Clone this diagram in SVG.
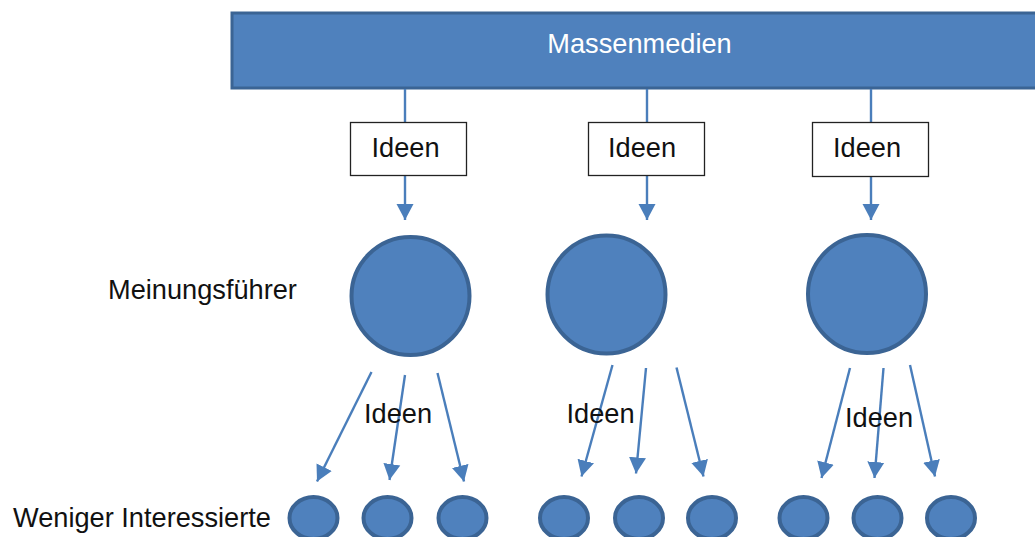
<svg xmlns="http://www.w3.org/2000/svg" width="1035" height="537" viewBox="0 0 1035 537">
<style>
.blue{fill:#4f81bd;stroke:#3b6494;stroke-width:4}
.box{fill:#fff;stroke:#222;stroke-width:1.3}
.t{font-family:"Liberation Sans",Arial,sans-serif;font-size:27.2px;fill:#111}
.conn line{stroke:#4a7ebb;stroke-width:2.4}
</style>
<defs>
<marker id="ah" markerUnits="userSpaceOnUse" markerWidth="18" markerHeight="18" viewBox="0 0 18 18" refX="16" refY="9" orient="auto">
<path d="M0,0.5 L16,9 L0,17.5 Z" fill="#4a7ebb"/>
</marker>
</defs>
<rect width="1035" height="537" fill="#fff"/>
<g id="massenmedien">
<rect x="232" y="13" width="820" height="75" class="blue" style="stroke-width:3"/>
<text x="639.5" y="53" text-anchor="middle" class="t" style="fill:#fff">Massenmedien</text>
</g>
<g class="conn" id="connectors">
<line x1="405" y1="89" x2="405" y2="122"/>
<line x1="647" y1="89" x2="647" y2="122"/>
<line x1="871" y1="89" x2="871" y2="122"/>
<line x1="405" y1="176" x2="405" y2="220" marker-end="url(#ah)"/>
<line x1="647" y1="176" x2="647" y2="220" marker-end="url(#ah)"/>
<line x1="871" y1="176" x2="871" y2="220" marker-end="url(#ah)"/>
<line x1="371.5" y1="372" x2="317" y2="481.5" marker-end="url(#ah)"/>
<line x1="405" y1="375" x2="389.5" y2="480" marker-end="url(#ah)"/>
<line x1="437.5" y1="373" x2="464" y2="481.5" marker-end="url(#ah)"/>
<line x1="612.5" y1="365" x2="581.5" y2="476.5" marker-end="url(#ah)"/>
<line x1="646" y1="368" x2="636" y2="473.5" marker-end="url(#ah)"/>
<line x1="676.5" y1="367.5" x2="703.5" y2="476.5" marker-end="url(#ah)"/>
<line x1="850" y1="368" x2="821.5" y2="478" marker-end="url(#ah)"/>
<line x1="883.5" y1="368" x2="874.5" y2="478" marker-end="url(#ah)"/>
<line x1="910" y1="365" x2="935" y2="476.5" marker-end="url(#ah)"/>
</g>
<g id="box1"><rect x="350.5" y="122.5" width="116" height="53" class="box"/><text x="371.5" y="156.5" class="t">Ideen</text></g>
<g id="box2"><rect x="588.5" y="122.5" width="116" height="53" class="box"/><text x="608" y="156.5" class="t">Ideen</text></g>
<g id="box3"><rect x="812.5" y="122.5" width="116" height="54" class="box"/><text x="833" y="157" class="t">Ideen</text></g>
<g id="label-meinungsfuehrer"><text x="108" y="299" class="t">Meinungsführer</text></g>
<g id="leader1"><circle cx="410.5" cy="296" r="59" class="blue"/></g>
<g id="leader2"><circle cx="606.5" cy="294.5" r="59" class="blue"/></g>
<g id="leader3"><circle cx="867" cy="294" r="59" class="blue"/></g>
<g id="label-ideen1"><text x="364" y="422.5" class="t">Ideen</text></g>
<g id="label-ideen2"><text x="566.5" y="423" class="t">Ideen</text></g>
<g id="label-ideen3"><text x="845" y="426.5" class="t">Ideen</text></g>
<g id="label-weniger"><text x="13" y="527" class="t">Weniger Interessierte</text></g>
<g id="followers">
<ellipse id="f1" cx="313.5" cy="518" rx="24" ry="21" class="blue"/>
<ellipse id="f2" cx="387.5" cy="518" rx="24" ry="21" class="blue"/>
<ellipse id="f3" cx="462.5" cy="518" rx="24" ry="21" class="blue"/>
<ellipse id="f4" cx="564" cy="518" rx="24" ry="21" class="blue"/>
<ellipse id="f5" cx="639" cy="518" rx="24" ry="21" class="blue"/>
<ellipse id="f6" cx="712" cy="518" rx="24" ry="21" class="blue"/>
<ellipse id="f7" cx="803.5" cy="518" rx="24" ry="21" class="blue"/>
<ellipse id="f8" cx="877.5" cy="518" rx="24" ry="21" class="blue"/>
<ellipse id="f9" cx="951" cy="518" rx="24" ry="21" class="blue"/>
</g>
</svg>
